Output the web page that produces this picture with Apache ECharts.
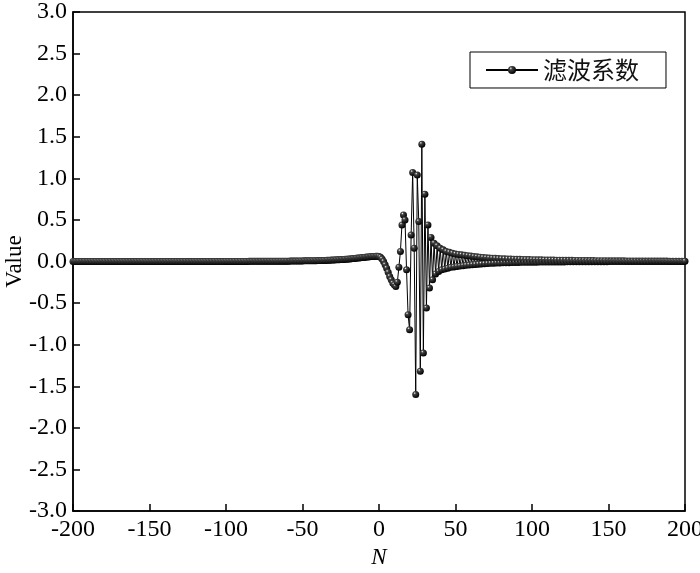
<!DOCTYPE html>
<html>
<head>
<meta charset="utf-8">
<script src="https://cdn.jsdelivr.net/npm/echarts@6/dist/echarts.min.js"></script>
<style>
  html, body { margin: 0; padding: 0; background: #fff; }
  #chart { width: 700px; height: 573px; }
</style>
</head>
<body>
<div id="chart"></div>
<script>
  // 滤波系数, N = -200 ... 200, step 1
  var nStart = -200;
  var coefLeft = [ // N -200 .. -1
    0,0,0,0,0,0,0,0,0,0, 0,0,0,0,0,0,0,0,0,0,
    0,0,0,0,0,0,0,0,0,0, 0,0,0,0,0,0,0,0,0,0,
    0,0,0,0,0,0,0,0,0,0, 0,0,0,0,0,0,0,0,0,0,
    0,0,0,0,0,0,0,0,0,0, 0,0,0,0,0,0,0,0,0,0,
    0,0,0,0,0,0,0,0,0,0, 0,0,0,0,0,0,0,0,0,0,
    0.001,0.001,0.001,0.001,0.001,0.001,0.001,0.001,0.001,0.001,
    0.001,0.001,0.001,0.001,0.001,0.002,0.002,0.002,0.002,0.002,
    0.002,0.002,0.002,0.002,0.003,0.003,0.003,0.003,0.003,0.003,
    0.003,0.003,0.003,0.003,0.003,0.003,0.004,0.004,0.004,0.004,
    0.004,0.004,0.005,0.005,0.005,0.006,0.006,0.006,0.007,0.007,
    0.007,0.008,0.008,0.008,0.009,0.009,0.009,0.01,0.01,0.01,
    0.011,0.011,0.012,0.012,0.013,0.013,0.014,0.015,0.016,0.017,
    0.018,0.019,0.02,0.021,0.022,0.023,0.024,0.025,0.027,0.028,
    0.03,0.031,0.033,0.035,0.037,0.039,0.041,0.043,0.045,0.047,
    0.049,0.051,0.053,0.055,0.057,0.059,0.06,0.061,0.062,0.062
  ];
  var coefRight = [ // N 0 .. 200
    0.06,0.05,0.03,0.0,-0.04,-0.08,-0.13,-0.18,-0.22,-0.26,
    -0.28,-0.3,-0.25,-0.07,0.12,0.44,0.56,0.5,-0.1,-0.64,
    -0.82,0.32,1.07,0.16,-1.6,1.04,0.48,-1.32,1.41,-1.1,
    0.81,-0.56,0.44,-0.32,0.29,-0.22,0.22,-0.15,0.19,-0.12,
    0.16,-0.1,0.14,-0.09,0.12,-0.08,0.11,-0.07,0.1,-0.065,
    0.09,-0.06,0.085,-0.055,0.08,-0.05,0.075,-0.045,0.07,-0.042,
    0.066,-0.038,0.06,-0.035,0.056,-0.032,0.052,-0.029,0.048,-0.026,
    0.045,-0.024,0.042,-0.022,0.04,-0.02,0.038,-0.018,0.036,-0.017,
    0.034,-0.016,0.032,-0.015,0.03,-0.014,0.029,-0.013,0.028,-0.012,
    0.027,-0.011,0.026,-0.01,0.025,-0.01,0.024,-0.009,0.023,-0.009,
    0.022,-0.008,0.021,-0.008,0.02,-0.007,0.02,-0.007,0.019,-0.007,
    0.018,-0.006,0.018,-0.006,0.017,-0.006,0.016,-0.005,0.016,-0.005,
    0.015,-0.005,0.015,-0.004,0.014,-0.004,0.014,-0.004,0.013,-0.004,
    0.013,-0.003,0.012,-0.003,0.012,-0.003,0.011,-0.003,0.011,-0.002,
    0.011,-0.002,0.01,-0.002,0.01,-0.002,0.01,-0.002,0.009,-0.002,
    0.009,-0.001,0.009,-0.001,0.008,-0.001,0.008,-0.001,0.008,-0.001,
    0.008,-0.001,0.007,-0.001,0.007,-0.001,0.007,-0.001,0.007,-0.001,
    0.006,0,0.006,0,0.006,0,0.006,0,0.006,0,
    0.005,0,0.005,0,0.005,0,0.005,0,0.005,0,
    0.004,0,0.004,0,0.004,0,0.004,0,0.004,0,
    0.004
  ];
  var xTicks = [-200, 200, 50];
  var yTicks = [-3, 3, 0.5];
  var seriesName = '滤波系数';

  var coef = coefLeft.concat(coefRight);
  var points = coef.map(function (v, i) { return [nStart + i, v]; });

  var serif = "'Times New Roman', 'Liberation Serif', Tinos, serif";
  var chart = echarts.init(document.getElementById('chart'));
  var option = {
    animation: false,
    backgroundColor: '#fff',
    grid: {
      left: 73, right: 15, top: 12, bottom: 62,
      outerBoundsMode: 'none',
      containLabel: false,
      show: true,
      borderColor: '#000',
      borderWidth: 1.5
    },
    legend: {
      data: [seriesName],
      left: 470,
      top: 52,
      itemWidth: 52,
      itemHeight: 10,
      padding: [6, 27, 6, 15],
      borderColor: '#000',
      borderWidth: 1,
      textStyle: {
        fontFamily: "'Noto Sans CJK SC'",
        fontSize: 24,
        color: '#111'
      }
    },
    xAxis: {
      type: 'value',
      min: xTicks[0], max: xTicks[1], interval: xTicks[2],
      name: 'N',
      nameLocation: 'middle',
      nameGap: 34,
      nameTextStyle: { fontFamily: serif, fontStyle: 'italic', fontSize: 23, color: '#000' },
      axisLine: { onZero: false, lineStyle: { color: '#000', width: 1.5 } },
      axisTick: { inside: true, length: 7, lineStyle: { color: '#000', width: 1.5 } },
      axisLabel: { fontFamily: serif, fontSize: 24, color: '#000', margin: 7 },
      splitLine: { show: false }
    },
    yAxis: {
      type: 'value',
      min: yTicks[0], max: yTicks[1], interval: yTicks[2],
      name: 'Value',
      nameLocation: 'middle',
      nameGap: 47,
      nameMoveOverlap: false,
      nameTextStyle: { fontFamily: serif, fontSize: 23, color: '#000' },
      axisLine: { onZero: false, lineStyle: { color: '#000', width: 1.5 } },
      axisTick: { inside: true, length: 7, lineStyle: { color: '#000', width: 1.5 } },
      axisLabel: {
        fontFamily: serif, fontSize: 24, color: '#000', margin: 6,
        formatter: function (v) { return v.toFixed(1); }
      },
      splitLine: { show: false }
    },
    series: [{
      name: seriesName,
      type: 'line',
      data: points,
      symbol: 'circle',
      symbolSize: 7,
      showAllSymbol: true,
      lineStyle: { color: '#000', width: 1 },
      itemStyle: {
        color: new echarts.graphic.RadialGradient(0.35, 0.3, 0.7, [
          { offset: 0, color: '#f4f4f4' },
          { offset: 0.25, color: '#444' },
          { offset: 1, color: '#000' }
        ]),
        borderWidth: 0
      }
    }]
  };
  chart.setOption(option);
</script>
</body>
</html>
